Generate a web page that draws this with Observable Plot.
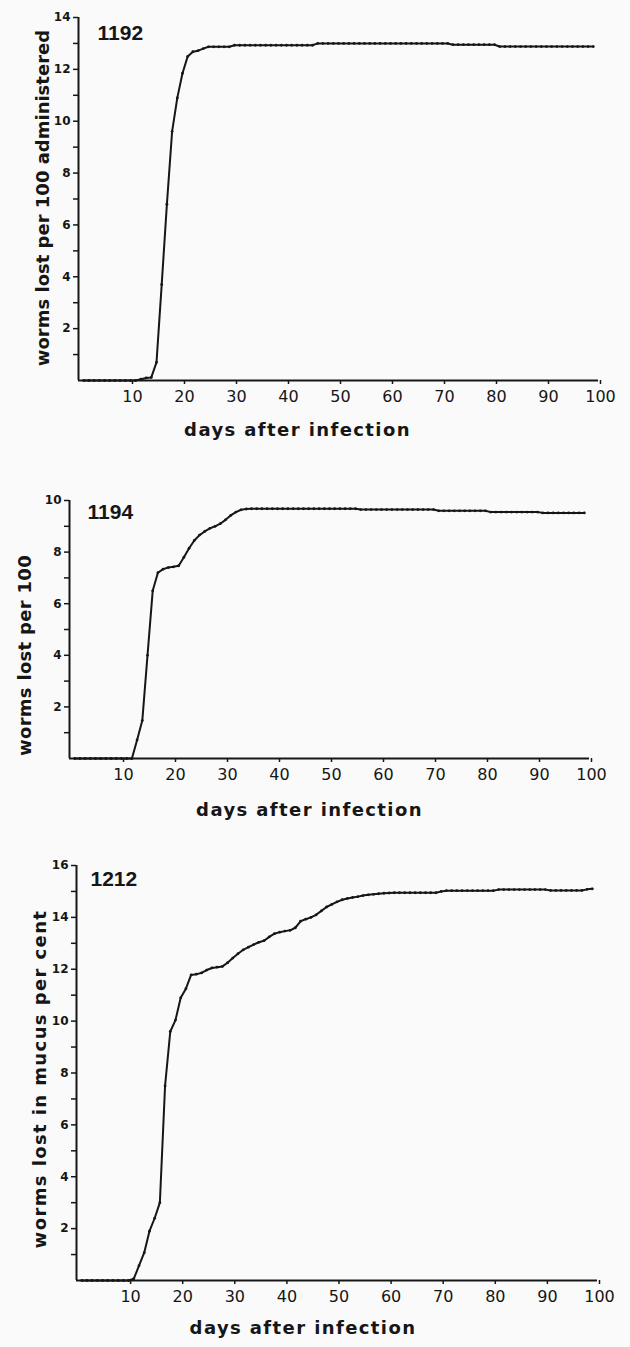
<!DOCTYPE html>
<html>
<head>
<meta charset="utf-8">
<script src="https://cdn.jsdelivr.net/npm/d3@7"></script>
<script src="https://cdn.jsdelivr.net/npm/@observablehq/plot@0.6"></script>
<style>
  html, body { margin: 0; padding: 0; background: #fafafa; }
  #chart svg { display: block; background: transparent; }
</style>
</head>
<body>
<div id="chart"></div>
<script>
// worms lost, cumulative, day 1 .. 99 after infection
const worms1192 = [
  0,0,0,0,0,0,0,0,0,0,0,
  0.05,0.1,0.12,0.7,3.7,6.8,9.6,10.9,11.85,12.5,12.68,12.72,12.8,
  12.87,12.87,12.87,12.87,12.87,
  12.93,12.93,12.93,12.93,12.93,12.93,12.93,12.93,12.93,12.93,12.93,12.93,12.93,12.93,12.93,12.93,
  13,13,13,13,13,13,13,13,13,13,13,13,13,13,13,13,13,13,13,13,13,13,13,13,13,13,
  12.95,12.95,12.95,12.95,12.95,12.95,12.95,12.95,12.95,
  12.88,12.88,12.88,12.88,12.88,12.88,12.88,12.88,12.88,12.88,12.88,12.88,12.88,12.88,12.88,12.88,12.88,12.88,12.88
];
const worms1194 = [
  0,0,0,0,0,0,0,0,0,0,0,0,
  0.72,1.47,4.0,6.5,7.2,7.34,7.4,7.43,7.47,7.8,8.15,8.45,8.66,8.8,8.92,9.0,9.1,9.25,9.42,9.55,9.64,9.67,
  9.68,9.68,9.68,9.68,9.68,9.68,9.68,9.68,9.68,9.68,9.68,9.68,9.68,9.68,9.68,9.68,9.68,9.68,9.68,9.68,9.68,
  9.65,9.65,9.65,9.65,9.65,9.65,9.65,9.65,9.65,9.65,9.65,9.65,9.65,9.65,9.65,
  9.6,9.6,9.6,9.6,9.6,9.6,9.6,9.6,9.6,9.6,
  9.55,9.55,9.55,9.55,9.55,9.55,9.55,9.55,9.55,9.55,
  9.52,9.52,9.52,9.52,9.52,9.52,9.52,9.52,9.52
];
const worms1212 = [
  0,0,0,0,0,0,0,0,0,0,
  0.07,0.57,1.07,1.9,2.4,3.0,7.5,9.6,10.04,10.9,11.25,11.78,11.81,11.86,11.97,12.05,12.08,12.11,12.25,12.43,
  12.6,12.75,12.85,12.95,13.04,13.1,13.25,13.37,13.43,13.47,13.5,13.6,13.85,13.93,14.0,14.1,14.25,14.4,14.5,14.6,
  14.68,14.73,14.77,14.8,14.84,14.87,14.89,14.91,14.93,14.94,
  14.95,14.95,14.95,14.95,14.95,14.95,14.95,14.95,14.95,
  15.0,
  15.03,15.03,15.03,15.03,15.03,15.03,15.03,15.03,15.03,15.03,
  15.07,15.07,15.07,15.07,15.07,15.07,15.07,15.07,15.07,15.07,
  15.04,15.04,15.04,15.04,15.04,15.04,15.04,
  15.08,15.1
];
const xTicks = [10, 20, 30, 40, 50, 60, 70, 80, 90, 100];
const xLabel = "days after infection";

const panels = [
  {id: "1192", values: worms1192, yMax: 14, yLabel: "worms lost per 100 administered", ylSpacing: 0,
   height: 450, mt: 17, mb: 70, ml: 78, mr: 32,
   idDx: 19, idDy: 16, ylDx: -35, ylDy: -1, xlDx: -41, xlDy: 50},
  {id: "1194", values: worms1194, yMax: 10, yLabel: "worms lost per 100", ylSpacing: 0.3,
   height: 390, mt: 50, mb: 82, ml: 69, mr: 41,
   idDx: 18, idDy: 12, ylDx: -44, ylDy: 26, xlDx: -20, xlDy: 52},
  {id: "1212", values: worms1212, yMax: 16, yLabel: "worms lost in mucus per cent", ylSpacing: 1.4,
   height: 507, mt: 25, mb: 67, ml: 76, mr: 33,
   idDx: 14, idDy: 14, ylDx: -36, ylDy: 6, xlDx: -34, xlDy: 48}
];

const font = "'DejaVu Sans', sans-serif";
const ink = "#161616";

for (const p of panels) {
  const data = p.values.map((v, i) => ({day: i + 1, value: v}));
  const yTicks = d3.range(1, p.yMax + 1);
  const chart = Plot.plot({
    width: 630,
    height: p.height,
    marginTop: p.mt, marginBottom: p.mb, marginLeft: p.ml, marginRight: p.mr,
    style: {fontFamily: font, color: ink, background: "transparent", overflow: "visible"},
    x: {domain: [0, 100], label: null},
    y: {domain: [0, p.yMax], label: null},
    marks: [
      Plot.axisY({ticks: yTicks, tickFormat: d => (d % 2 === 0 ? d : ""), tickSize: 5, tickPadding: 3,
                  strokeWidth: 1.5, fontSize: 12, fontWeight: "bold", label: null}),
      Plot.axisX({ticks: xTicks, tickSize: 4, tickPadding: 6, strokeWidth: 1.5,
                  fontSize: 16, label: null, dx: 2}),
      Plot.ruleX([0], {y1: 0, y2: p.yMax, stroke: ink, strokeWidth: 2}),
      Plot.ruleY([0], {x1: 0, x2: 100, stroke: ink, strokeWidth: 2}),
      Plot.line(data, {x: "day", y: "value", stroke: ink, strokeWidth: 2}),
      Plot.dot(data, {x: "day", y: "value", r: 1.4, fill: ink, stroke: null}),
      Plot.text([p.id], {frameAnchor: "top-left", dx: p.idDx, dy: p.idDy, textAnchor: "start",
                         lineAnchor: "middle", fontSize: 21, fontWeight: "bold",
                         fontFamily: "'Liberation Sans', sans-serif", fill: ink}),
      Plot.text([p.yLabel], {frameAnchor: "left", rotate: -90, dx: p.ylDx, dy: p.ylDy,
                             textAnchor: "middle", lineAnchor: "middle",
                             fontSize: 18, fontWeight: "bold", fill: ink}),
      Plot.text([xLabel], {frameAnchor: "bottom", dx: p.xlDx, dy: p.xlDy,
                           textAnchor: "middle", lineAnchor: "middle",
                           fontSize: 18, fontWeight: "bold", fill: ink})
    ]
  });
  // letter spacing for the axis titles
  d3.select(chart).selectAll("text").each(function () {
    const t = this.textContent;
    if (t === xLabel) this.setAttribute("letter-spacing", "1.4");
    else if (t === p.yLabel && p.ylSpacing) this.setAttribute("letter-spacing", String(p.ylSpacing));
  });
  document.getElementById("chart").appendChild(chart);
}
</script>
</body>
</html>
